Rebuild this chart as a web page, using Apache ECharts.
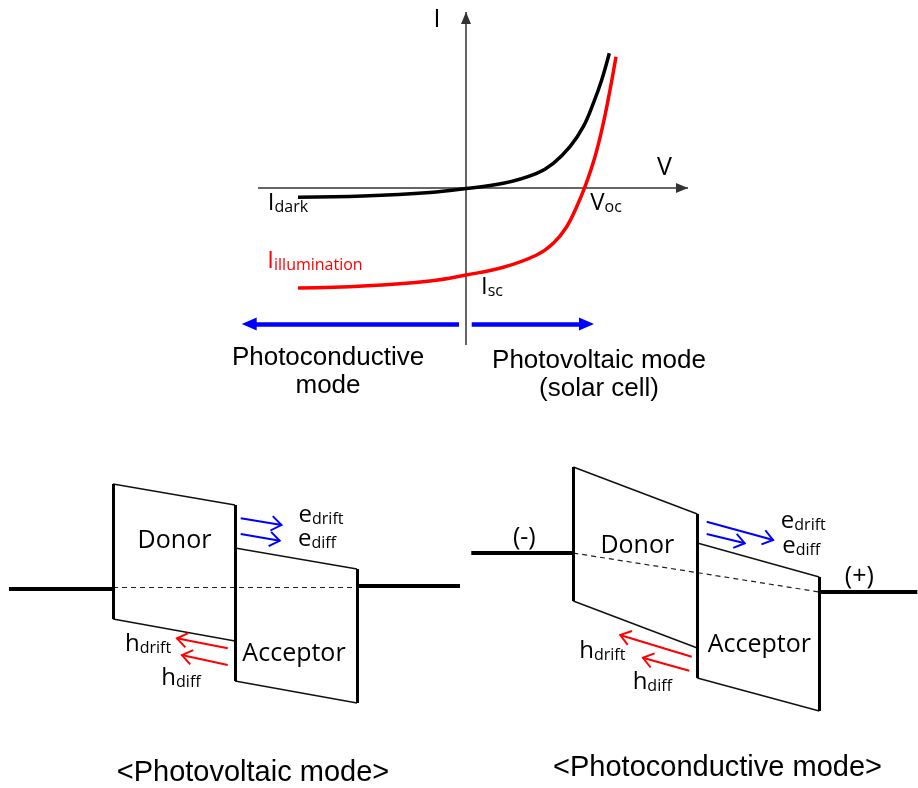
<!DOCTYPE html>
<html>
<head>
<meta charset="utf-8">
<script src="https://cdn.jsdelivr.net/npm/echarts@6/dist/echarts.min.js"></script>
<style>
  html, body { margin: 0; padding: 0; background: #ffffff; }
  #chart { width: 918px; height: 788px; }
</style>
</head>
<body>
<div id="chart"></div>
<script>
// ---------- I–V characteristic (V along x, I along y, arbitrary units) ----------
const darkIV = [[-1.68, -0.093], [-1.03, -0.08], [-0.36, -0.045], [0, -0.005], [0.373, 0.047],
  [0.707, 0.147], [0.873, 0.247], [1.04, 0.413], [1.173, 0.613], [1.273, 0.847], [1.357, 1.08], [1.433, 1.347]];
const lightIV = [[-1.68, -1.0], [-1.03, -0.98], [-0.36, -0.93], [0, -0.87], [0.373, -0.793],
  [0.707, -0.67], [0.873, -0.553], [1.007, -0.387], [1.107, -0.187], [1.19, 0.013], [1.29, 0.313],
  [1.373, 0.647], [1.44, 0.98], [1.50, 1.313]];

// axis spans (start -> arrow tip)
const vAxisSpan = [[-2.08, 0], [2.22, 0]];
const iAxisSpan = [[0, -1.57], [0, 1.76]];
const axisNames = ['I', 'V'];
const axisNamePos = [[-0.29, 1.68], [1.985, 0.2]];

// curve annotations: main symbol + subscript
const ivLabelMain = ['I', 'I', 'V', 'I'];
const ivLabelSub = ['dark', 'illumination', 'oc', 'sc'];
const ivLabelPos = [[-1.78, -0.15], [-1.51, -0.73], [1.40, -0.15], [0.26, -0.99]];

// operating-mode arrows (start -> head centre) and their captions
const modeArrows = [[[-0.07, -1.36], [-2.168, -1.36]], [[0.057, -1.36], [1.205, -1.36]]];
const modeText = ['Photoconductive\nmode', 'Photovoltaic mode\n(solar cell)'];
const modeTextPos = [[-1.38, -1.84], [1.33, -1.87]];

// ---------- band diagrams (x: position, junction at 0; y: energy) ----------
// photovoltaic mode (no bias, flat Fermi level)
const pvDonor = [[-12.2, 1.03], [0, 0.82], [0, -0.54], [-12.2, -0.32]];
const pvAcceptor = [[0, 0.39], [12.2, 0.18], [12.2, -1.16], [0, -0.94]];
const pvWires = [[[-22.6, -0.015], [-12.2, -0.015]], [[12.2, 0.015], [22.5, 0.015]]];
const pvFermi = [[-12.2, 0], [12.2, 0]];
const pvElectronArrows = [[[0.57, 0.687], [4.67, 0.62]], [[0.57, 0.53], [4.5, 0.463]]];
const pvHoleArrows = [[[-0.73, -0.613], [-5.83, -0.513]], [[-0.73, -0.78], [-5.33, -0.68]]];
const pvLabelMain = ['e', 'e', 'h', 'h'];
const pvLabelSub = ['drift', 'diff', 'drift', 'diff'];
const pvLabelPos = [[8.6, 0.72], [8.2, 0.48], [-8.7, -0.57], [-5.4, -0.91]];
const pvLayerText = ['Donor', 'Acceptor'];
const pvLayerPos = [[-6.05, 0.46], [5.9, -0.67]];
const pvCaption = '<Photovoltaic mode>';
const pvCaptionPos = [1.8, -1.86];

// photoconductive mode (reverse bias, tilted Fermi level)
const pcDonor = [[-12.4, 1.06], [0, 0.59], [0, -0.75], [-12.4, -0.28]];
const pcAcceptor = [[0, 0.30], [12.2, -0.04], [12.2, -1.38], [0, -1.05]];
const pcWires = [[[-22.6, 0.2], [-12.4, 0.2]], [[12.2, -0.19], [22, -0.19]]];
const pcFermi = [[-12.4, 0.2], [12.2, -0.19]];
const pcElectronArrows = [[[0.94, 0.513], [7.6, 0.33]], [[0.94, 0.39], [4.77, 0.297]]];
const pcHoleArrows = [[[-0.56, -0.837], [-7.73, -0.62]], [[-0.8, -0.977], [-5.46, -0.847]]];
const pcLabelMain = ['e', 'e', 'h', 'h'];
const pcLabelSub = ['drift', 'diff', 'drift', 'diff'];
const pcLabelPos = [[10.6, 0.52], [10.4, 0.27], [-9.5, -0.78], [-4.5, -1.09]];
const pcLayerText = ['Donor', 'Acceptor', '(-)', '(+)'];
const pcLayerPos = [[-6.0, 0.27], [6.2, -0.72], [-17.3, 0.355], [16.2, -0.035]];
const pcCaption = '<Photoconductive mode>';
const pcCaptionPos = [2.02, -1.95];

// ---------- styling helpers ----------
const FONT_BODY = "'Open Sans', 'Noto Sans', sans-serif";
const FONT_ARIAL = "'Liberation Sans', Arial, sans-serif";
const BLUE = '#0000ff';
const RED = '#ff0000';
const INK = '#000000';

// Arrow-head paths. Each path has a square bounding box (corner specks of zero
// area fix the box) so a single symbolSize keeps the intended proportions.
// Tip-centred heads put the tip exactly on the segment end point.
const TRIANGLE_TIP = 'path://M0,0L0.01,0L0,0.01Z M24,24L23.99,24L24,23.99Z M12,12L17,24L7,24Z';
const TRIANGLE_MID = 'path://M0,0L0.01,0L0,0.01Z M15,15L14.99,15L15,14.99Z M7.5,0L14,15L1,15Z';
const CHEVRON_TIP = 'path://M0,0L0.01,0L0,0.01Z M22,22L21.99,22L22,21.99Z ' +
  'M11,9.8L17.8,19.2L16.5,20.2L11,12.6L5.5,20.2L4.2,19.2Z';

function linesSeries(grid, segments, style, symbol, symbolSize, z) {
  return {
    type: 'lines',
    coordinateSystem: 'cartesian2d',
    xAxisIndex: grid,
    yAxisIndex: grid,
    polyline: false,
    silent: true,
    animation: false,
    z: z || 2,
    symbol: symbol ? ['none', symbol] : 'none',
    symbolSize: symbolSize || 10,
    lineStyle: Object.assign({ opacity: 1, curveness: 0, cap: 'butt' }, style),
    data: segments.map(function (c) { return { coords: c }; })
  };
}

function subRich(color) {
  return {
    m: { fontFamily: FONT_BODY, fontSize: 24, lineHeight: 24, color: color },
    s: { fontFamily: FONT_BODY, fontSize: 16, lineHeight: 8, verticalAlign: 'bottom', color: color }
  };
}

function subLabelItems(mains, subs, positions, colorOf) {
  return mains.map(function (m, i) {
    const color = colorOf ? colorOf(i) : INK;
    return {
      value: positions[i],
      label: { formatter: '{m|' + m + '}{s|' + subs[i] + '}', color: color, rich: subRich(color) }
    };
  });
}

function plainLabelItems(texts, positions, font, size, lineHeight) {
  return texts.map(function (t, i) {
    return {
      value: positions[i],
      label: { formatter: t, fontFamily: font, fontSize: size, lineHeight: lineHeight || size, color: INK }
    };
  });
}

// text-only scatter: invisible anchors carrying fully opaque labels
function labelSeries(grid, items) {
  return {
    type: 'scatter',
    xAxisIndex: grid,
    yAxisIndex: grid,
    symbol: 'circle',
    symbolSize: 0,
    silent: true,
    animation: false,
    z: 6,
    itemStyle: { opacity: 1 },
    label: {
      show: true, position: 'inside', align: 'center', verticalAlign: 'middle',
      color: INK, textBorderWidth: 0, textShadowBlur: 0
    },
    data: items
  };
}

function boxEdges(donor, acceptor) {
  return {
    thick: [
      [donor[0], donor[3]],
      [donor[1], acceptor[3]],
      [acceptor[1], acceptor[2]]
    ],
    thin: [
      [donor[0], donor[1]],
      [donor[3], donor[2]],
      [acceptor[0], acceptor[1]],
      [acceptor[3], acceptor[2]]
    ]
  };
}

function bandSeries(grid, d) {
  const edges = boxEdges(d.donor, d.acceptor);
  return [
    linesSeries(grid, [d.fermi], { color: '#222', width: 1.2, type: [5, 4] }),
    linesSeries(grid, edges.thin, { color: '#111', width: 1.5 }),
    linesSeries(grid, edges.thick, { color: INK, width: 3 }, null, null, 3),
    linesSeries(grid, d.wires, { color: INK, width: 4 }, null, null, 3),
    linesSeries(grid, d.electrons, { color: BLUE, width: 2 }, CHEVRON_TIP, 26, 4),
    linesSeries(grid, d.holes, { color: RED, width: 2 }, CHEVRON_TIP, 26, 4),
    labelSeries(grid,
      subLabelItems(d.labelMain, d.labelSub, d.labelPos)
        .concat(plainLabelItems(d.layerText, d.layerPos, FONT_BODY, 25))
        .concat(plainLabelItems([d.caption], [d.captionPos], FONT_ARIAL, 29)))
  ];
}

function hiddenAxis(gridIndex, min, max) {
  return { type: 'value', gridIndex: gridIndex, min: min, max: max, show: false };
}

const chart = echarts.init(document.getElementById('chart'), null, { renderer: 'canvas' });

const series = [
  // I–V axes with arrow heads
  linesSeries(0, [vAxisSpan, iAxisSpan], { color: '#333', width: 1.5 }, TRIANGLE_TIP, 24, 2),
  // operating-mode arrows
  linesSeries(0, modeArrows, { color: BLUE, width: 4.5 }, TRIANGLE_MID, 15, 3),
  {
    type: 'line', name: 'dark', xAxisIndex: 0, yAxisIndex: 0,
    data: darkIV, smooth: 0.4, showSymbol: false, symbol: 'none', silent: true, animation: false, z: 4,
    lineStyle: { color: INK, width: 3.5 }
  },
  {
    type: 'line', name: 'illumination', xAxisIndex: 0, yAxisIndex: 0,
    data: lightIV, smooth: 0.4, showSymbol: false, symbol: 'none', silent: true, animation: false, z: 4,
    lineStyle: { color: RED, width: 3.5 }
  },
  labelSeries(0,
    subLabelItems(ivLabelMain, ivLabelSub, ivLabelPos, function (i) { return i === 1 ? RED : INK; })
      .concat(plainLabelItems(axisNames, axisNamePos, FONT_BODY, 25))
      .concat(plainLabelItems(modeText, modeTextPos, FONT_ARIAL, 26, 28)))
].concat(
  bandSeries(1, {
    donor: pvDonor, acceptor: pvAcceptor, wires: pvWires, fermi: pvFermi,
    electrons: pvElectronArrows, holes: pvHoleArrows,
    labelMain: pvLabelMain, labelSub: pvLabelSub, labelPos: pvLabelPos,
    layerText: pvLayerText, layerPos: pvLayerPos, caption: pvCaption, captionPos: pvCaptionPos
  }),
  bandSeries(2, {
    donor: pcDonor, acceptor: pcAcceptor, wires: pcWires, fermi: pcFermi,
    electrons: pcElectronArrows, holes: pcHoleArrows,
    labelMain: pcLabelMain, labelSub: pcLabelSub, labelPos: pcLabelPos,
    layerText: pcLayerText, layerPos: pcLayerPos, caption: pcCaption, captionPos: pcCaptionPos
  })
);

chart.setOption({
  backgroundColor: '#ffffff',
  animation: false,
  grid: [
    { left: 226, top: 8, width: 480, height: 400 },
    { left: 0, top: 477, width: 470, height: 310 },
    { left: 467.3, top: 453, width: 450, height: 335 }
  ],
  xAxis: [hiddenAxis(0, -2.4, 2.4), hiddenAxis(1, -23.5, 23.5), hiddenAxis(2, -23, 22)],
  yAxis: [hiddenAxis(0, -2.2, 1.8), hiddenAxis(1, -2.0, 1.1), hiddenAxis(2, -2.15, 1.2)],
  series: series
});
</script>
</body>
</html>
